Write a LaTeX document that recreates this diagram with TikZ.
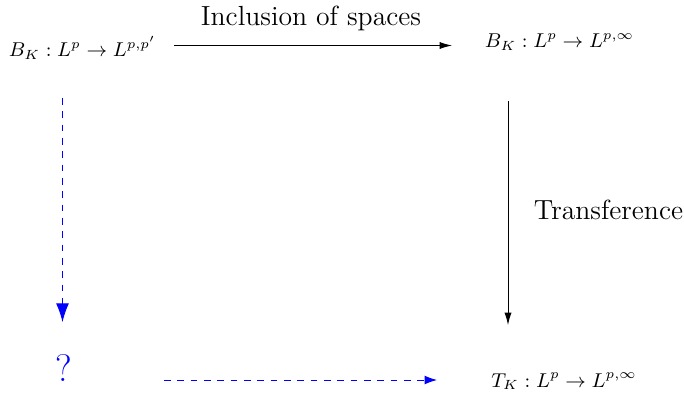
\documentclass[tikz,border=0pt]{standalone}
\usepackage{amsmath,amssymb}
\usepackage{tikz}
\usetikzlibrary{arrows.meta,positioning,calc}
\definecolor{ink}  {HTML}{000000}
\definecolor{qblue}{HTML}{0000FF}
\tikzset{
  mapnode/.style   ={inner sep=0pt, anchor=base, font=\fontsize{8.6}{10}\selectfont},
  labelnode/.style ={inner sep=0pt, anchor=base, font=\fontsize{12.45}{15}\selectfont},
  flowarr/.style   ={-{Latex[length=5.6pt,width=3.2pt]}, line width=0.4pt, color=ink},
  bluearr/.style   ={-{Latex[length=5.6pt,width=4pt]}, line width=0.4pt, color=qblue, dashed},
  bigbluearr/.style={-{Latex[length=8.4pt,width=5.8pt]}, line width=0.4pt, color=qblue, dashed},
}

\begin{document}
\begin{tikzpicture}[x=0.45pt,y=-0.45pt]
        \useasboundingbox (0,0) rectangle (684,398);
        \node[mapnode] (bk1) at (82.5,57) {$B_K:L^p\to L^{p,p'}$};
        \node[mapnode] (bk2) at (559.5,48) {$B_K:L^p\to L^{p,\infty}$};
        \node[mapnode] (tk) at (564,387) {$T_K:L^p\to L^{p,\infty}$};
        \node[mapnode,font=\LARGE,text=qblue] (q) at (63.5,381) {?};
        \node[labelnode] (incl) at (311,25) {Inclusion of spaces};
        \node[labelnode] (trans) at (608.5,219) {Transference};
        \draw[flowarr] ($(bk1.base)+(91.5,-11.5)$) -- ($(bk2.base)+(-107.5,-2.5)$);
        \draw[flowarr] ($(bk2.base)+(-51.5,53)$) -- ($(tk.base)+(-56,-62)$);
        \draw[bigbluearr] ($(bk1.base)+(-20,41)$) -- ($(q.base)+(-1,-59)$);
        \draw[bluearr] ($(q.base)+(100.5,-1)$) -- ($(tk.base)+(-127,-7)$);
      \end{tikzpicture}
\end{document}
